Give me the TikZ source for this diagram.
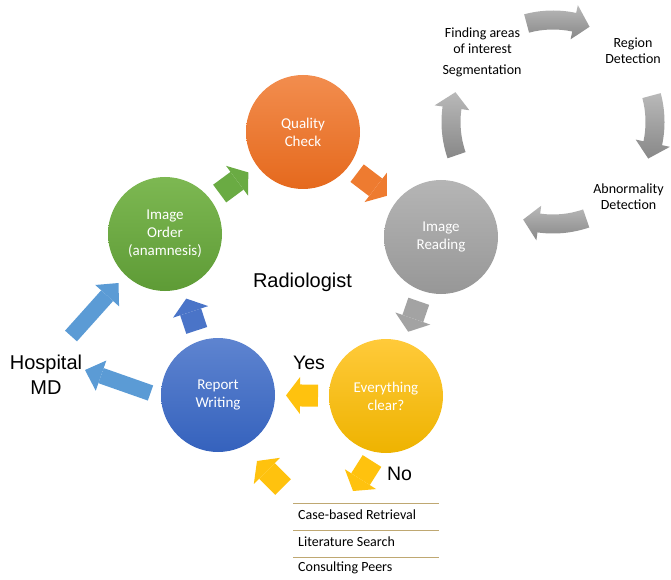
\documentclass[tikz,border=0pt]{standalone}
\usepackage{fontspec}
\newfontfamily\calibri{Carlito}
\newfontfamily\arial{Liberation Sans}
\usetikzlibrary{arrows.meta,calc}
\definecolor{gtop}{HTML}{7DB852}\definecolor{gbot}{HTML}{5E9B36}
\definecolor{otop}{HTML}{F28D4E}\definecolor{obot}{HTML}{E5691D}
\definecolor{rtop}{HTML}{B5B5B5}\definecolor{rbot}{HTML}{979797}
\definecolor{etop}{HTML}{FFCA3A}\definecolor{ebot}{HTML}{EEB300}
\definecolor{wtop}{HTML}{5E84D0}\definecolor{wbot}{HTML}{3562BD}
\definecolor{garrow}{HTML}{6AAB43}
\definecolor{oarrow}{HTML}{EE7B30}
\definecolor{rarrow}{HTML}{A3A3A3}
\definecolor{earrow}{HTML}{FFC20E}
\definecolor{warrow}{HTML}{4A74C8}
\definecolor{hosp}{HTML}{5B9BD5}
\definecolor{listline}{HTML}{BFA872}
\begin{document}
\begin{tikzpicture}[x=1pt,y=1pt,
  stage/.style={circle, minimum size=114pt, inner sep=0pt, outer sep=0pt,
    text=white, align=center, font=\calibri\fontsize{15}{18}\selectfont},
  cyc/.style={line width=22pt, shorten <=11pt, shorten >=11pt,
    -{Triangle[length=14pt,width=37pt,line width=0pt]}},
  freearrow/.style={line width=22pt, -{Triangle[length=14pt,width=37pt,line width=0pt]}},
  bigarrow/.style={draw=hosp, line width=16pt, -{Triangle[length=17pt,width=32pt,line width=0pt]}},
  lbl/.style={font=\arial\fontsize{20}{25}\selectfont, align=center, inner sep=0pt},
  cyctext/.style={font=\calibri\fontsize{14}{16}\selectfont, align=center, inner sep=0pt},
  listtext/.style={font=\calibri\fontsize{14}{16}\selectfont, anchor=west, inner sep=0pt},
  curved/.style={top color=rtop!95!white, bottom color=rbot!90!black}
]
\useasboundingbox (0,0) rectangle (671,579);

% stage circles
\node[stage, top color=gtop, bottom color=gbot] (G) at (165,345) {Image\\Order\\(anamnesis)};
\node[stage, top color=otop, bottom color=obot] (O) at (303,447) {Quality\\Check};
\node[stage, top color=rtop, bottom color=rbot] (R) at (441,342) {Image\\Reading};
\node[stage, top color=etop, bottom color=ebot] (E) at (386,183) {Everything\\clear?};
\node[stage, top color=wtop, bottom color=wbot] (W) at (218,184) {Report\\Writing};

% cycle arrows between stages
\draw[cyc, draw=garrow] (G) -- (O);
\draw[cyc, draw=oarrow] (O) -- (R);
\draw[cyc, draw=rarrow] (R) -- (E);
\draw[cyc, draw=earrow] (E) -- (W);
\draw[cyc, draw=warrow] (W) -- (G);

% labels
\node[lbl] (rad) at (302.5,297) {Radiologist};
\node[lbl] (H) at (46,204.5) {Hospital\\MD};
\node[lbl, font=\arial\fontsize{19.5}{22}\selectfont] (yes) at (309,216) {Yes};
\node[lbl, font=\arial\fontsize{19.5}{22}\selectfont] (no) at (399.5,105) {No};

% hospital arrows
\coordinate (h1s) at (71,243);
\coordinate (h1e) at (118.5,296);
\coordinate (h2s) at (150.5,186);
\coordinate (h2e) at (85,209);
\draw[bigarrow] (h1s) -- (h1e);
\draw[bigarrow] (h2s) -- (h2e);

% yellow side arrows
\coordinate (n1s) at (372,118);
\coordinate (n1e) at (353,88);
\coordinate (b1s) at (283,92);
\coordinate (b1e) at (257,118);
\draw[freearrow, draw=earrow] (n1s) -- (n1e);
\draw[freearrow, draw=earrow] (b1s) -- (b1e);

% list
\draw[listline, line width=0.9pt] (293,76) -- (439,76);
\draw[listline, line width=0.9pt] (293,49) -- (439,49);
\draw[listline, line width=0.9pt] (293,22) -- (439,22);
\node[listtext] (l1) at (298,64) {Case-based Retrieval};
\node[listtext] (l2) at (298,37) {Literature Search};
\node[listtext] (l3) at (298,11) {Consulting Peers};

% reading sub-cycle
\coordinate (C) at (553,457);
\foreach \c in {88,-2,-88,182} {
  \begin{scope}[shift={(C)}]
    \path[curved] (\c+17:111.5) arc[start angle=\c+17, end angle=\c-10, radius=111.5]
      -- (\c-10:119.5) -- (\c-19:102) -- (\c-10:84.5) -- (\c-10:92.5)
      arc[start angle=\c-10, end angle=\c+17, radius=92.5] -- cycle;
  \end{scope}
}
\node[cyctext] (fa) at (482.5,538.5) {Finding areas\\of interest};
\node[cyctext] (seg) at (482,508) {Segmentation};
\node[cyctext] (rd) at (633,528) {Region\\Detection};
\node[cyctext] (ad) at (628.5,382) {Abnormality\\Detection};
\end{tikzpicture}
\end{document}
